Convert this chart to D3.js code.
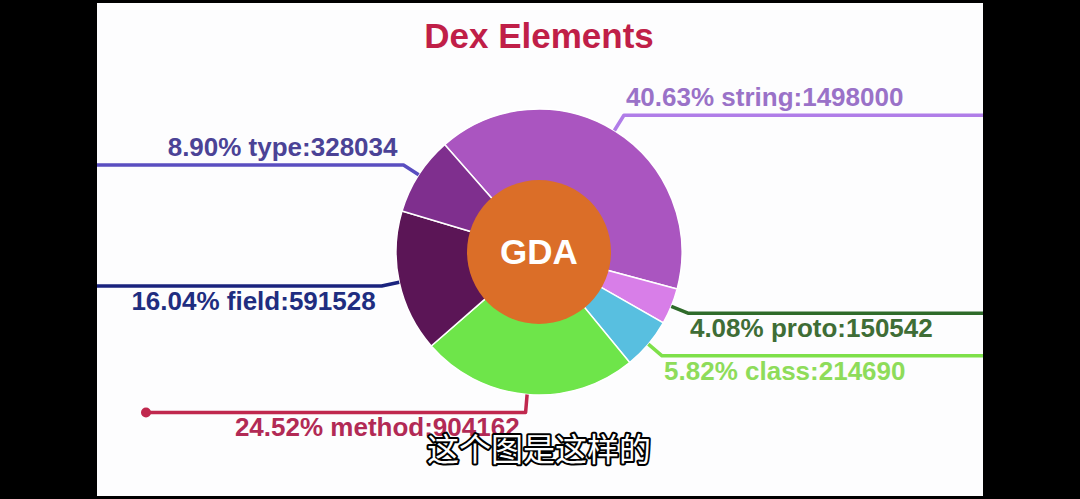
<!DOCTYPE html>
<html>
<head>
<meta charset="utf-8">
<script src="https://cdn.jsdelivr.net/npm/d3@7"></script>
<style>
  html, body { margin: 0; padding: 0; background: #000; }
  svg { display: block; }
</style>
</head>
<body>
<svg id="chart" width="1080" height="499"></svg>
<script>
// ---- data ----
const titleText = "Dex Elements";
const centerLabel = "GDA";
const subtitleText = "这个图是这样的";
const categories = ["string", "proto", "class", "method", "field", "type"];
const values = [1498000, 150542, 214690, 904162, 591528, 328034];
const sliceColors = ["#aa55c0", "#d87ee8", "#58bfe0", "#6ee54a", "#5b1556", "#7f2f8e"];
const labelColors = ["#9a72c8", "#3f6d36", "#8edc5a", "#b22a55", "#1f2d80", "#4b4396"];
const lineColors  = ["#b07de8", "#2f6b2a", "#7ee04a", "#c0284e", "#1a237e", "#5a4ec0"];

// ---- layout ----
const W = 1080, H = 499;
const panel = { x0: 97, x1: 983, y0: 3, y1: 496 };
const cx = 539, cy = 252;
const rOuter = 143, rInner = 60, rCenter = 72, rElbow = 161;
const startDeg = -41.3;

const svg = d3.select("#chart");
svg.append("rect").attr("x", 0).attr("y", 0).attr("width", W).attr("height", H).attr("fill", "#000");
svg.append("rect")
  .attr("x", panel.x0).attr("y", panel.y0)
  .attr("width", panel.x1 - panel.x0).attr("height", panel.y1 - panel.y0)
  .attr("fill", "#fdfdfe");

const clip = svg.append("defs").append("clipPath").attr("id", "panelClip");
clip.append("rect").attr("x", panel.x0).attr("y", panel.y0)
  .attr("width", panel.x1 - panel.x0).attr("height", panel.y1 - panel.y0);

const total = d3.sum(values);
const data = categories.map((c, i) => ({ name: c, value: values[i], i }));

const start = startDeg * Math.PI / 180;
const pie = d3.pie().sort(null).value(d => d.value).startAngle(start).endAngle(start + 2 * Math.PI);
const arcs = pie(data);

const arc = d3.arc().innerRadius(rInner).outerRadius(rOuter);

const root = svg.append("g").attr("clip-path", "url(#panelClip)");

// title
root.append("text")
  .attr("x", cx).attr("y", 48)
  .attr("text-anchor", "middle")
  .attr("font-family", "Liberation Sans, Arial, sans-serif")
  .attr("font-weight", "bold")
  .attr("font-size", 35)
  .attr("fill", "#c01f48")
  .text(titleText);

const g = root.append("g").attr("transform", `translate(${cx},${cy})`);

// slices
g.selectAll("path.slice").data(arcs).join("path")
  .attr("class", "slice")
  .attr("d", arc)
  .attr("fill", d => sliceColors[d.data.i])
  .attr("stroke", "#fff")
  .attr("stroke-width", 1.5);

// centre circle
g.append("circle").attr("r", rCenter).attr("fill", "#db6e28");
g.append("text")
  .attr("y", 12)
  .attr("text-anchor", "middle")
  .attr("font-family", "Liberation Sans, Arial, sans-serif")
  .attr("font-weight", "bold")
  .attr("font-size", 35)
  .attr("fill", "#fff")
  .text(centerLabel);

// label lines + labels
const outerPt = d3.arc().innerRadius(rOuter).outerRadius(rOuter);
const elbowPt = d3.arc().innerRadius(rElbow).outerRadius(rElbow);
const methodInset = 49;

arcs.forEach(d => {
  const i = d.data.i;
  const p0 = outerPt.centroid(d);
  const p1 = elbowPt.centroid(d);
  const right = p1[0] > 0;
  const edgeX = right ? panel.x1 - cx : panel.x0 - cx + (d.data.name === "method" ? methodInset : -5);
  const pts = [p0, p1, [edgeX + (right ? 5 : 0), p1[1]]];
  g.append("path")
    .attr("d", d3.line()(pts))
    .attr("fill", "none")
    .attr("stroke", lineColors[i])
    .attr("stroke-width", 3.5)
    .attr("stroke-linejoin", "round");
  if (d.data.name === "method") {
    g.append("circle").attr("cx", edgeX).attr("cy", p1[1]).attr("r", 5).attr("fill", lineColors[i]);
  }
  const above = p1[1] < 0;
  const pct = (d.data.value / total * 100).toFixed(2) + "% " + d.data.name + ":" + d.data.value;
  g.append("text")
    .attr("x", right ? p1[0] + 2 : p1[0] - 6)
    .attr("y", above ? p1[1] - 9 : p1[1] + 24)
    .attr("text-anchor", right ? "start" : "end")
    .attr("font-family", "Liberation Sans, Arial, sans-serif")
    .attr("font-weight", "bold")
    .attr("font-size", 26)
    .attr("fill", labelColors[i])
    .text(pct);
});

// subtitle (video caption)
svg.append("text")
  .attr("x", cx).attr("y", 461)
  .attr("text-anchor", "middle")
  .attr("font-family", "Noto Sans CJK SC, sans-serif")
  .attr("font-size", 32)
  .attr("fill", "#fff")
  .attr("stroke", "#000")
  .attr("stroke-width", 4)
  .attr("paint-order", "stroke")
  .attr("stroke-linejoin", "round")
  .text(subtitleText);
</script>
</body>
</html>
